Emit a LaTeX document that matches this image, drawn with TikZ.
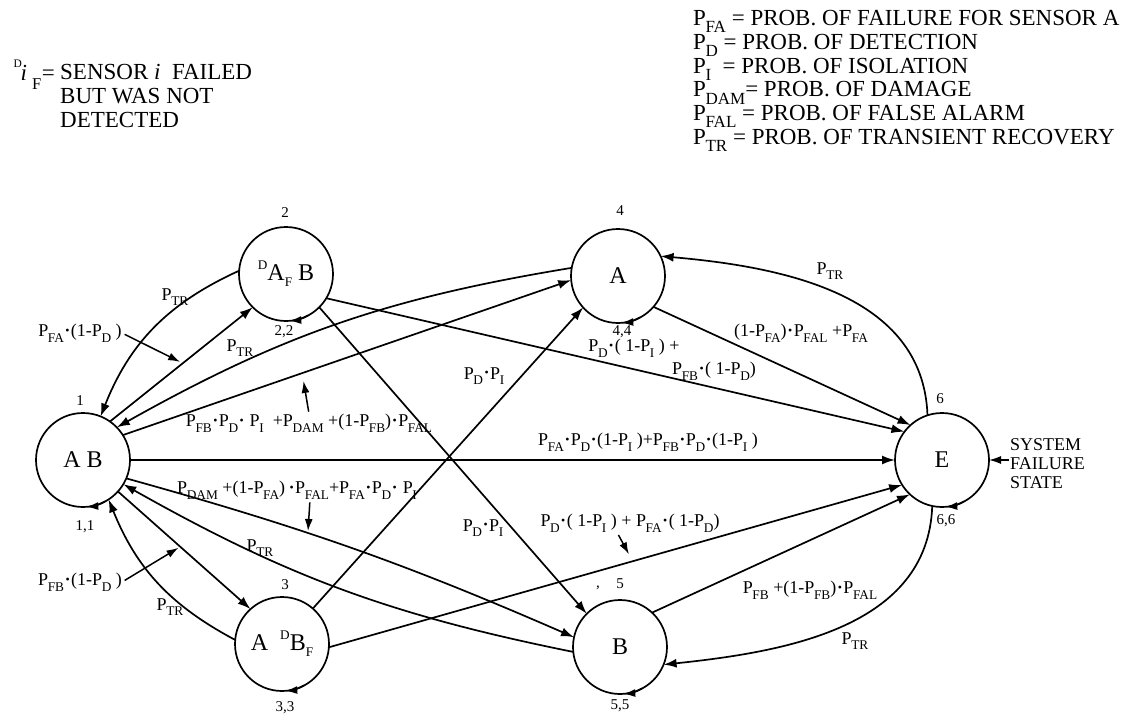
\documentclass[tikz,border=0pt]{standalone}
\usepackage{fontspec}
\setmainfont{Liberation Serif}
\usetikzlibrary{arrows.meta,calc}

% probability symbol with lowered subscript
\newcommand{\prb}[1]{P\kern-0.02em\raisebox{-0.32em}{\scalebox{0.74}{#1}}}
% multiplication dot
\newcommand{\md}{\kern0.08em\raisebox{0.12em}{\scalebox{0.66}{\textbullet}}\kern0.08em}
% small raised / lowered marks used in state names
\newcommand{\upD}{\raisebox{0.45em}{\scalebox{0.55}{D}}}
\newcommand{\dnF}{\raisebox{-0.25em}{\scalebox{0.55}{F}}}

\tikzset{
  state/.style={circle, draw, line width=1.7pt, minimum size=94pt, inner sep=0pt,
    outer sep=0pt, font=\fontsize{24}{26}\selectfont},
  trans/.style={line width=1.7pt, -{Latex[length=13pt,width=9pt]}},
  ptr/.style={line width=1.5pt, -{Latex[length=12pt,width=8pt]}},
  selfloop/.style={line width=1.7pt, -{Latex[length=12pt,width=8pt]}},
  lbl/.style={font=\fontsize{18}{20}\selectfont, inner sep=0pt},
  num/.style={font=\fontsize{15}{17}\selectfont, inner sep=0pt},
  legend/.style={font=\fontsize{23}{23.8}\selectfont, inner sep=0pt, align=left}
}

\begin{document}
\begin{tikzpicture}[x=1pt,y=1pt]
\path[use as bounding box] (0,0) rectangle (1137,-718);

% ---- legends ----
\node[legend, anchor=east] (sym) at (55,-75)
  {\raisebox{0.55em}{\scalebox{0.5}{D}}\kern-0.05em\textit{i}\kern0.22em\raisebox{-0.42em}{\scalebox{0.72}{F}}\kern0.02em=};
\node[legend, anchor=north west] (deftext) at (60,-64)
  {SENSOR \textit{i}\ \ FAILED\\BUT WAS NOT\\DETECTED};

\node[legend, anchor=north west] (defs) at (693,-10)
  {\prb{FA} = PROB. OF FAILURE FOR SENSOR A\\
   \prb{D} = PROB. OF DETECTION\\
   \prb{I}\ \ = PROB. OF ISOLATION\\
   \prb{DAM}= PROB. OF DAMAGE\\
   \prb{FAL} = PROB. OF FALSE ALARM\\
   \prb{TR} = PROB. OF TRANSIENT RECOVERY};

% ---- states ----
\node[state] (n1) at (83,-460) {A B};
\node[state] (n2) at (286,-274) {\upD A\dnF\ B};
\node[state] (n3) at (282,-644) {A\ \ \upD B\dnF};
\node[state] (n4) at (618,-276) {A};
\node[state] (n5) at (620,-647) {B};
\node[state] (n6) at (942,-460) {E};

% state numbers
\node[num] (k1) at (80,-401) {1};
\node[num] (k2) at (285,-213) {2};
\node[num] (k3) at (285,-585) {3};
\node[num] (k4) at (620,-211) {4};
\node[num] (k5) at (620,-584) {5};
\node[num] (k5c) at (598,-588) {,};
\node[num] (k6) at (940,-399) {6};

% self transitions
\foreach \s in {n1,n2,n3,n4,n5,n6}
  \draw[selfloop] (\s.-62) arc[start angle=-62, end angle=-86, radius=47pt];
\node[num] (s1) at (85,-527) {1,1};
\node[num] (s2) at (284,-332) {2,2};
\node[num] (s3) at (285,-708) {3,3};
\node[num] (s4) at (622,-332) {4,4};
\node[num] (s5) at (620,-706) {5,5};
\node[num] (s6) at (946,-521) {6,6};

% ---- transitions ----
\draw[trans] (n1.55) -- coordinate[pos=0.51] (c12) (n2.225);
\draw[trans] (n2.176) to[bend right=22] (n1.68);
\draw[trans] (n4.170) to[bend right=10] (n1.44);
\draw[trans] (n1.32) -- coordinate[pos=0.40] (c14) (n4.185);
\draw[trans] (n2.-31) -- (n6.143);
\draw[trans] (n4.-41) -- (n6.132);
\draw[trans] (n6.108) to[out=92, in=-5] (n4.25);
\draw[trans] (n1.0) -- (n6.180);
\draw[trans] (n2.-45) -- (n5.135);
\draw[trans] (n3.49) -- (n4.222);
\draw[trans] (n1.-42) -- coordinate[pos=0.47] (c13) (n3.132);
\draw[trans] (n3.175) to[bend left=20] (n1.-57);
\draw[trans] (n5.186) to[bend left=9] (n1.-31);
\draw[trans] (n1.-23) to[bend left=4] coordinate[pos=0.39] (c15) (n5.168);
\draw[trans] (n3.-4) -- coordinate[pos=0.53] (c36) (n6.212);
\draw[trans] (n5.47) -- (n6.227);
\draw[trans] (n6.-102) to[out=-92, in=6] (n5.-22);

% ---- transition labels ----
\node[lbl] (l12) at (80,-333) {\prb{FA}\md(1-\prb{D}\ )};
\node[lbl] (l21) at (175,-297) {\prb{TR}};
\node[lbl] (l41) at (240,-348) {\prb{TR}};
\node[lbl] (l14) at (309,-423) {\prb{FB}\md\prb{D}\md\ \prb{I}\ \ +\prb{DAM} +(1-\prb{FB})\md\prb{FAL}};
\node[lbl] (l26a) at (634,-348) {\prb{D}\md( 1-\prb{I} ) +};
\node[lbl] (l26b) at (714,-371) {\prb{FB}\md( 1-\prb{D})};
\node[lbl] (l46) at (801,-333) {(1-\prb{FA})\md\prb{FAL} +\prb{FA}};
\node[lbl] (l64) at (830,-271) {\prb{TR}};
\node[lbl] (l16) at (648,-442) {\prb{FA}\md\prb{D}\md (1-\prb{I} )+\prb{FB}\md\prb{D}\md(1-\prb{I} )};
\node[lbl] (l34) at (484,-376) {\prb{D}\md\prb{I}};
\node[lbl] (l25) at (483,-528) {\prb{D}\md\prb{I}};
\node[lbl] (l15) at (297,-490) {\prb{DAM} +(1-\prb{FA})\,\md\prb{FAL}+\prb{FA}\md\prb{D}\md\ \prb{I}};
\node[lbl] (l51) at (260,-548) {\prb{TR}};
\node[lbl] (l13) at (80,-582) {\prb{FB}\md(1-\prb{D}\ )};
\node[lbl] (l31) at (170,-607) {\prb{TR}};
\node[lbl] (l36) at (630,-523) {\prb{D}\md( 1-\prb{I} ) + \prb{FA}\md( 1-\prb{D})};
\node[lbl] (l56) at (810,-590) {\prb{FB} +(1-\prb{FB})\md\prb{FAL}};
\node[lbl] (l65) at (855,-641) {\prb{TR}};

% pointers from labels to their transitions
\draw[ptr, shorten <=3pt, shorten >=3pt] (l12.east) -- (c12);
\draw[ptr, shorten <=2pt, shorten >=8pt] (l14.north) -- (c14);
\draw[ptr, shorten <=3pt, shorten >=2pt] ([xshift=13pt]l15.south) -- (c15);
\draw[ptr, shorten <=3pt, shorten >=2pt] (l13.east) -- (c13);
\draw[ptr, shorten <=3pt, shorten >=8pt] ([xshift=-13pt]l36.south) -- (c36);

% failure state note
\node[legend, anchor=west, font=\fontsize{18}{19}\selectfont] (sys) at (1010,-464)
  {SYSTEM\\FAILURE\\STATE};
\draw[ptr, shorten <=1pt] (sys.west |- n6.east) -- (n6.east);
\end{tikzpicture}
\end{document}
